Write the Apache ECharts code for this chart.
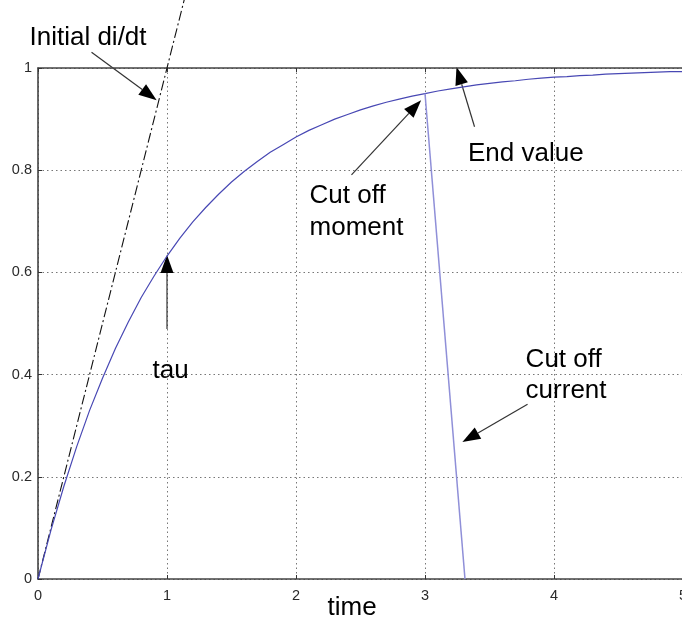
<!DOCTYPE html>
<html>
<head>
<meta charset="utf-8">
<script src="https://cdn.jsdelivr.net/npm/echarts@6/dist/echarts.min.js"></script>
<style>
html,body{margin:0;padding:0;background:#fff;}
#chart{width:682px;height:623px;}
</style>
</head>
<body>
<div id="chart"></div>
<script>
// ---- data ----
const time = [0, 0.1, 0.2, 0.3, 0.4, 0.5, 0.6, 0.7, 0.8, 0.9,
  1, 1.1, 1.2, 1.3, 1.4, 1.5, 1.6, 1.7, 1.8, 1.9,
  2, 2.1, 2.2, 2.3, 2.4, 2.5, 2.6, 2.7, 2.8, 2.9,
  3, 3.1, 3.2, 3.3, 3.4, 3.5, 3.6, 3.7, 3.8, 3.9,
  4, 4.1, 4.2, 4.3, 4.4, 4.5, 4.6, 4.7, 4.8, 4.9, 5];
const current = [0, 0.095, 0.181, 0.259, 0.330, 0.393, 0.451, 0.503, 0.551, 0.593,
  0.632, 0.667, 0.699, 0.727, 0.753, 0.777, 0.798, 0.817, 0.835, 0.850,
  0.865, 0.878, 0.889, 0.900, 0.909, 0.918, 0.926, 0.933, 0.939, 0.945,
  0.950, 0.955, 0.959, 0.963, 0.967, 0.970, 0.973, 0.975, 0.978, 0.980,
  0.982, 0.983, 0.985, 0.986, 0.988, 0.989, 0.990, 0.991, 0.992, 0.993, 0.993];
const cutoffTime = [3, 3.31];
const cutoffCurrent = [0.95, 0];
const tangentTime = [0, 1.14];
const tangentCurrent = [0, 1.14];
const xTicks = [0, 1, 2, 3, 4, 5];
const yTicks = [0, 0.2, 0.4, 0.6, 0.8, 1];

// annotation arrows in data coordinates [time, current]
const arrowFrom = [[0.415, 1.031], [1.0, 0.489], [2.43, 0.791], [3.384, 0.885], [3.795, 0.342]];
const arrowTo   = [[0.92, 0.937], [1.0, 0.634], [2.97, 0.937], [3.244, 1.002], [3.29, 0.268]];
// annotation labels: text, anchor (data coords)
const labelText = ['Initial di/dt', 'End value', 'Cut off', 'moment', 'tau', 'Cut off', 'current'];
const labelAt = [[-0.066, 1.06], [3.333, 0.833], [2.105, 0.749], [2.105, 0.688], [0.888, 0.407], [3.78, 0.428], [3.78, 0.368]];
const axisTitle = 'time';

const chart = echarts.init(document.getElementById('chart'), null, {renderer: 'canvas'});

const pair = (a, b) => a.map((v, i) => [v, b[i]]);

const axisLineStyle = {color: '#444', width: 1.6};
const gridLineStyle = {color: '#777', width: 1, type: [1.5, 3]};
const tickFont = 'Liberation Sans, Arial, sans-serif';

chart.setOption({
  animation: false,
  backgroundColor: '#fff',
  grid: {left: 38, top: 68, width: 645, height: 511, containLabel: false, outerBoundsMode: 'none'},
  xAxis: [{
    type: 'value', min: xTicks[0], max: xTicks[xTicks.length - 1], interval: 1,
    position: 'bottom',
    axisLine: {show: true, lineStyle: axisLineStyle},
    axisTick: {show: true, inside: true, length: 4, lineStyle: {color: '#333'}},
    axisLabel: {color: '#2a2a2a', fontSize: 14.5, fontFamily: tickFont, margin: 9},
    splitLine: {show: true, lineStyle: gridLineStyle}
  }, {
    type: 'value', min: xTicks[0], max: xTicks[xTicks.length - 1], interval: 1,
    position: 'top',
    axisLine: {show: true, onZero: false, lineStyle: axisLineStyle},
    axisTick: {show: true, inside: true, length: 4, lineStyle: {color: '#333'}},
    axisLabel: {show: false},
    splitLine: {show: false}
  }],
  yAxis: {
    type: 'value', min: yTicks[0], max: yTicks[yTicks.length - 1], interval: 0.2,
    axisLine: {show: true, lineStyle: axisLineStyle},
    axisTick: {show: true, inside: true, length: 4, lineStyle: {color: '#333'}},
    axisLabel: {color: '#2a2a2a', fontSize: 14.5, fontFamily: tickFont, margin: 6,
      formatter: v => String(Math.round(v * 10) / 10)},
    splitLine: {show: true, lineStyle: gridLineStyle}
  },
  series: [
    {
      name: 'tangent', type: 'line', data: pair(tangentTime, tangentCurrent),
      showSymbol: false, clip: false,
      lineStyle: {color: '#111', width: 1.1, type: [10, 3, 2, 3]}
    },
    {
      name: 'current', type: 'line', data: pair(time, current),
      showSymbol: false, smooth: false,
      lineStyle: {color: '#4848b4', width: 1.2}
    },
    {
      name: 'cutoff', type: 'line', data: pair(cutoffTime, cutoffCurrent),
      showSymbol: false,
      lineStyle: {color: '#8f8fd8', width: 1.5}
    }
  ]
});

// annotations placed via the grid's own scale
const graphics = [];
const px = p => chart.convertToPixel({gridIndex: 0}, p);
arrowFrom.forEach((f, k) => {
  const a = px(f), b = px(arrowTo[k]);
  const dx = b[0] - a[0], dy = b[1] - a[1];
  const len = Math.hypot(dx, dy);
  const ux = dx / len, uy = dy / len;
  const hl = 18, hw = 6.5;
  const bx = b[0] - ux * hl, by = b[1] - uy * hl;
  graphics.push({
    type: 'line', silent: true,
    shape: {x1: a[0], y1: a[1], x2: bx, y2: by},
    style: {stroke: '#333', lineWidth: 1.2}
  });
  graphics.push({
    type: 'polygon', silent: true,
    shape: {points: [[b[0], b[1]], [bx - uy * hw, by + ux * hw], [bx + uy * hw, by - ux * hw]]},
    style: {fill: '#000'}
  });
});
labelText.forEach((t, k) => {
  const p = px(labelAt[k]);
  graphics.push({
    type: 'text', silent: true,
    style: {x: p[0], y: p[1], text: t, fill: '#000', font: '26px "Liberation Sans", Arial, sans-serif',
      align: 'left', verticalAlign: 'middle'}
  });
});
const tp = px([2.435, -0.057]);
graphics.push({
  type: 'text', silent: true,
  style: {x: tp[0], y: tp[1], text: axisTitle, fill: '#000', font: '26px "Liberation Sans", Arial, sans-serif',
    align: 'center', verticalAlign: 'middle'}
});
chart.setOption({graphic: graphics});
</script>
</body>
</html>
